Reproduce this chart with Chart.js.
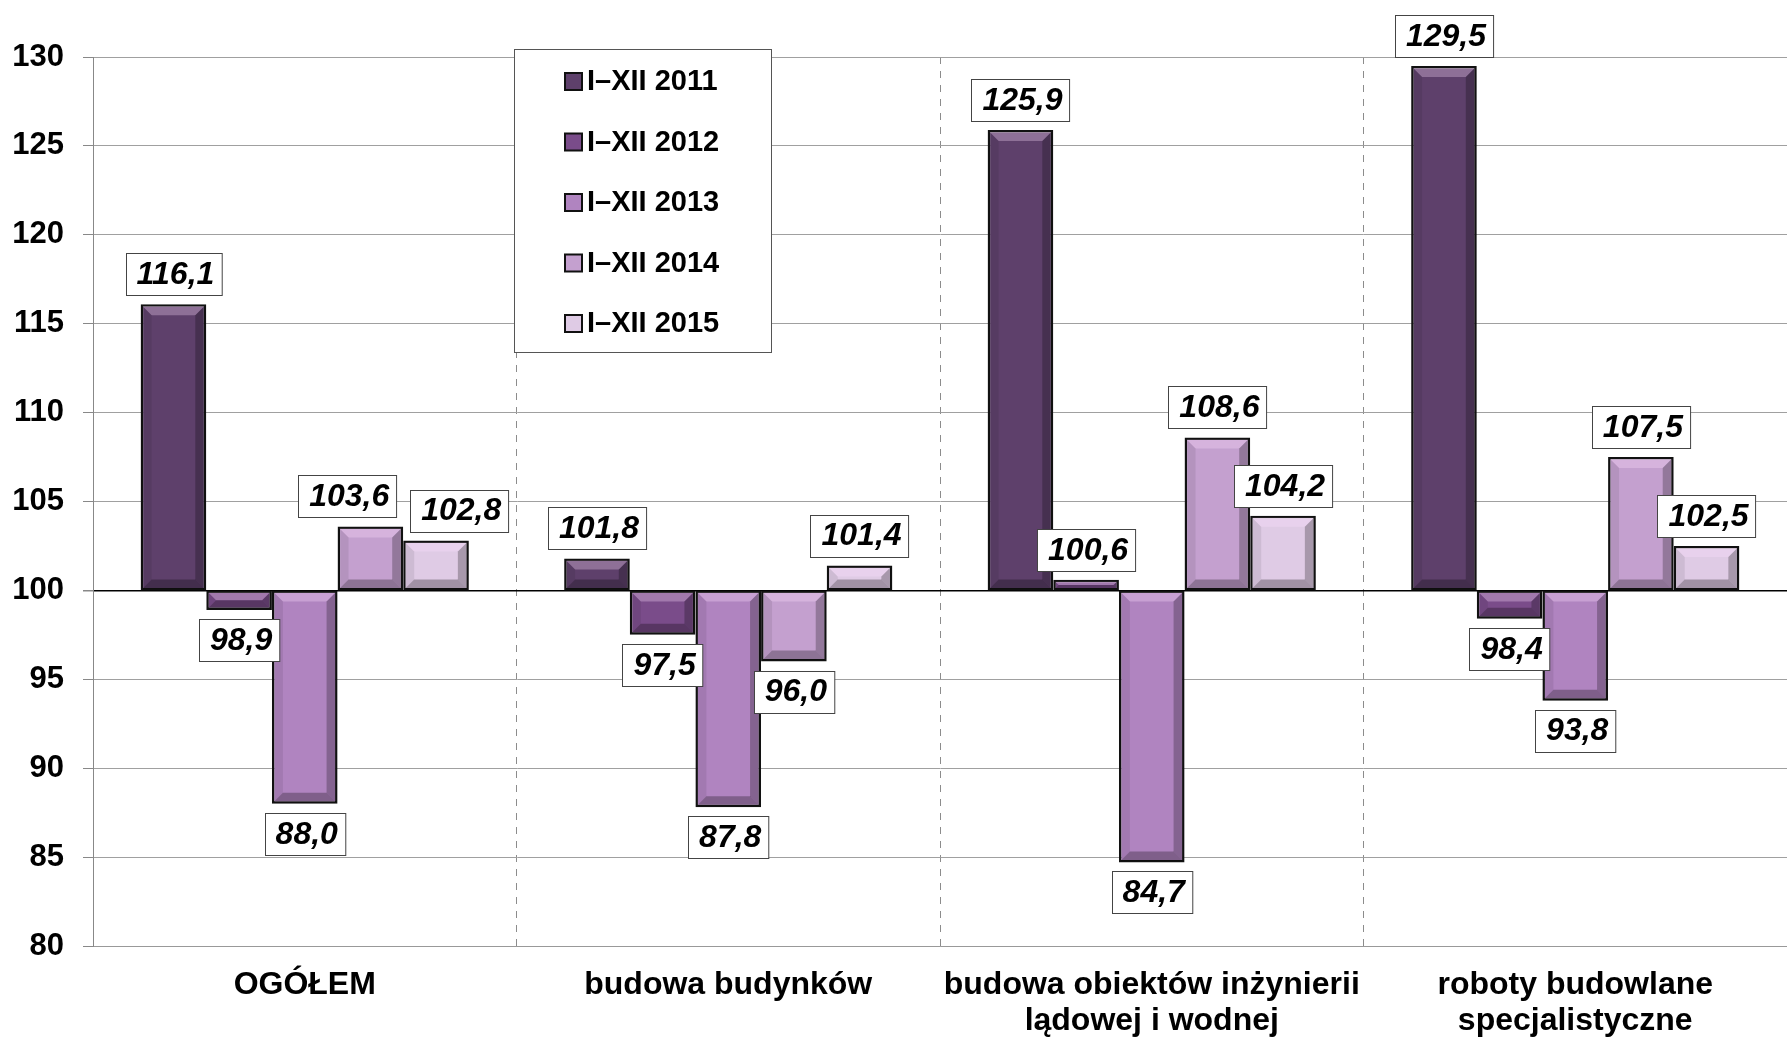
<!DOCTYPE html>
<html>
<head>
<meta charset="utf-8">
<script src="https://cdn.jsdelivr.net/npm/chart.js@4.4.1/dist/chart.umd.min.js"></script>
<style>
  html, body { margin: 0; padding: 0; background: #fff; }
  #wrap { width: 1787px; height: 1038px; position: relative; }
</style>
</head>
<body>
<div id="wrap"><canvas id="chart"></canvas></div>
<script>
// categories and series
const categories = [
  ['OGÓŁEM'],
  ['budowa budynków'],
  ['budowa obiektów inżynierii', 'lądowej i wodnej'],
  ['roboty budowlane', 'specjalistyczne']
];
const seriesNames = ['I\u2013XII 2011', 'I\u2013XII 2012', 'I\u2013XII 2013', 'I\u2013XII 2014', 'I\u2013XII 2015'];
const values2011 = [116.1, 101.8, 125.9, 129.5];
const values2012 = [98.9, 97.5, 100.6, 98.4];
const values2013 = [88.0, 87.8, 84.7, 93.8];
const values2014 = [103.6, 96.0, 108.6, 107.5];
const values2015 = [102.8, 101.4, 104.2, 102.5];
const baseValue = 100;
const yTicks = [80, 85, 90, 95, 100, 105, 110, 115, 120, 125, 130];

const colors = ['#5e406b', '#7a4c8a', '#b084c0', '#c4a0cf', '#dfcbe5'];
const allValues = [values2011, values2012, values2013, values2014, values2015];

const FONT = '"Liberation Sans", Arial, sans-serif';

// bevel look on the bars
const bevelPlugin = {
  id: 'bevel',
  afterDatasetsDraw(chart) {
    const ctx = chart.ctx;
    chart.data.datasets.forEach((ds, di) => {
      const meta = chart.getDatasetMeta(di);
      meta.data.forEach(bar => {
        const p = bar.getProps(['x', 'y', 'base', 'width'], true);
        const l = p.x - p.width / 2 + 2, r = p.x + p.width / 2 - 2;
        const t = Math.min(p.y, p.base) + 2, b = Math.max(p.y, p.base) - 2;
        if (b - t < 2) return;
        const s = Math.min(9, (b - t) / 2, (r - l) / 2);
        ctx.save();
        const poly = (pts, fill) => {
          ctx.beginPath();
          ctx.moveTo(pts[0][0], pts[0][1]);
          pts.slice(1).forEach(q => ctx.lineTo(q[0], q[1]));
          ctx.closePath();
          ctx.fillStyle = fill;
          ctx.fill();
        };
        poly([[l, t], [r, t], [r - s, t + s], [l + s, t + s]], 'rgba(255,225,255,0.30)');
        poly([[r, t], [r, b], [r - s, b - s], [r - s, t + s]], 'rgba(0,0,0,0.25)');
        poly([[l, b], [r, b], [r - s, b - s], [l + s, b - s]], 'rgba(0,0,0,0.28)');
        poly([[l, t], [l + s, t + s], [l + s, b - s], [l, b]], 'rgba(0,0,0,0.08)');
        ctx.restore();
      });
    });
  }
};

// boxed value labels
const valueLabelPlugin = {
  id: 'valueLabels',
  afterDatasetsDraw(chart) {
    const ctx = chart.ctx;
    ctx.save();
    ctx.font = 'italic bold 32px ' + FONT;
    const boxH = 42;
    categories.forEach((c, ci) => {
      const boxes = [];
      chart.data.datasets.forEach((ds, di) => {
        const v = allValues[di][ci];
        const bar = chart.getDatasetMeta(di).data[ci];
        const p = bar.getProps(['x', 'y', 'base', 'width'], true);
        const text = v.toFixed(1).replace('.', ',');
        const w = ctx.measureText(text).width + 18;
        let top;
        if (v >= baseValue) top = Math.min(p.y, p.base) - 9 - boxH;
        else top = Math.max(p.y, p.base) + 9;
        boxes.push({ text, x: p.x, w, top });
      });
      // push apart overlapping neighbours
      for (let i = 0; i < boxes.length - 1; i++) {
        const a = boxes[i], b = boxes[i + 1];
        const overlapX = (a.x + a.w / 2) - (b.x - b.w / 2);
        const overlapY = Math.min(a.top + boxH, b.top + boxH) - Math.max(a.top, b.top);
        if (overlapX > -6 && overlapY > 0) {
          const shift = (overlapX + 14) / 2;
          a.x -= shift;
          b.x += shift;
        }
      }
      boxes.forEach(bx => {
        const left = Math.round(bx.x - bx.w / 2) + 0.5;
        const top = Math.round(bx.top) + 0.5;
        ctx.fillStyle = '#fff';
        ctx.fillRect(left, top, bx.w, boxH);
        ctx.strokeStyle = '#444';
        ctx.lineWidth = 1;
        ctx.strokeRect(left, top, bx.w, boxH);
        ctx.fillStyle = '#000';
        ctx.textAlign = 'center';
        ctx.textBaseline = 'middle';
        ctx.fillText(bx.text, bx.x + 2, bx.top + boxH / 2 + 1);
      });
    });
    ctx.restore();
  }
};

// legend box inside the plot
const legendBoxPlugin = {
  id: 'legendBox',
  afterDraw(chart) {
    const ctx = chart.ctx;
    const x0 = 514, y0 = 49, w = 257, h = 303;
    ctx.save();
    ctx.fillStyle = '#fff';
    ctx.fillRect(x0, y0, w, h);
    ctx.strokeStyle = '#555';
    ctx.lineWidth = 1;
    ctx.strokeRect(x0 + 0.5, y0 + 0.5, w, h);
    ctx.font = 'bold 29px ' + FONT;
    ctx.textBaseline = 'middle';
    ctx.textAlign = 'left';
    chart.data.datasets.forEach((ds, i) => {
      const cy = 81 + i * 60.5;
      ctx.fillStyle = ds.backgroundColor;
      ctx.fillRect(565, cy - 8, 17, 17);
      ctx.strokeStyle = '#111';
      ctx.lineWidth = 2;
      ctx.strokeRect(565, cy - 8, 17, 17);
      ctx.fillStyle = '#000';
      ctx.fillText(ds.label, 587, cy + 1);
    });
    ctx.restore();
  }
};

const datasets = seriesNames.map((name, i) => ({
  label: name,
  data: allValues[i].map(v => [baseValue, v]),
  backgroundColor: colors[i],
  borderColor: '#111',
  borderWidth: 2.5,
  borderSkipped: false
}));

new Chart(document.getElementById('chart'), {
  type: 'bar',
  data: { labels: categories, datasets },
  plugins: [bevelPlugin, valueLabelPlugin, legendBoxPlugin],
  options: {
    responsive: true,
    maintainAspectRatio: false,
    animation: false,
    layout: { padding: { top: 57, right: 0, left: 0, bottom: 0 } },
    datasets: { bar: { categoryPercentage: 0.775, barPercentage: 1.0 } },
    plugins: { legend: { display: false }, tooltip: { enabled: false } },
    scales: {
      x: {
        grid: { color: '#8c8c8c', drawTicks: false, offset: true },
        border: { display: true, color: '#999', dash: [7, 7] },
        ticks: { color: '#000', font: { family: FONT, size: 32, weight: 'bold', lineHeight: 1.1 }, padding: 22, maxRotation: 0, autoSkip: false },
        afterFit(scale) { scale.height = 92; }
      },
      y: {
        min: yTicks[0],
        max: yTicks[yTicks.length - 1],
        afterBuildTicks(scale) { scale.ticks = yTicks.map(v => ({ value: v })); },
        grid: {
          color: ctx => ctx.tick && ctx.tick.value === baseValue ? '#000' : '#a0a0a0',
          lineWidth: ctx => ctx.tick && ctx.tick.value === baseValue ? 1.5 : 1,
          tickColor: '#888',
          tickLength: 10
        },
        border: { display: true, color: '#888' },
        ticks: { color: '#000', font: { family: FONT, size: 31, weight: 'bold' }, padding: 19 },
        afterFit(scale) { scale.width = 93; }
      }
    }
  }
});
</script>
</body>
</html>
